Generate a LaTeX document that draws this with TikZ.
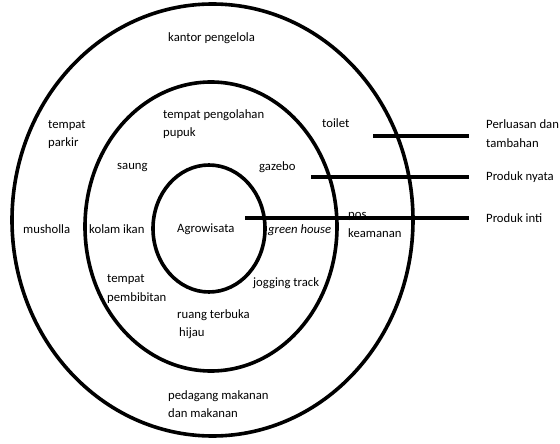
\documentclass[tikz,border=0pt]{standalone}
\usepackage{fontspec}
\setmainfont{Carlito}
\usepackage{tikz}

\begin{document}
\begin{tikzpicture}[x=1pt, y=-1pt, font=\fontsize{12.7}{18.5}\selectfont,
  ring/.style={line width=3.6pt},
  bar/.style={line width=4pt},
  lbl/.style={anchor=west, inner sep=0pt, align=left},
  tag/.style={anchor=west, inner ysep=0pt, inner xsep=17pt, align=left}]
\useasboundingbox (0,0) rectangle (560,444);
%%%%% Circles %%%%%
\draw[ring] (212.5,220) ellipse [x radius=200.5pt, y radius=216pt];
\draw[ring] (211,226.5) ellipse [x radius=126pt, y radius=144.5pt];
\draw[ring] (209,228.5) ellipse [x radius=56pt, y radius=63.5pt];
%%%%% Outer ring %%%%%
\node[lbl] (kantor) at (168,38) {kantor pengelola};
\node[lbl] (parkir) at (48,134.5) {tempat\\parkir};
\node[lbl] (toilet) at (322,123) {toilet};
\node[lbl] (musholla) at (23,229) {musholla};
\node[lbl] (pos) at (348,225) {pos\\keamanan};
\node[lbl] (pedagang) at (168,404) {pedagang makanan\\dan makanan};
%%%%% Middle ring %%%%%
\node[lbl] (pengolahan) at (163,124) {tempat pengolahan\\pupuk};
\node[lbl] (saung) at (117,168) {saung};
\node[lbl] (gazebo) at (259,167) {gazebo};
\node[lbl] (kolam) at (89,229) {kolam ikan};
\node[lbl] (greenhouse) at (268,230) {\itshape green house};
\node[lbl] (pembibitan) at (107,289) {tempat\\pembibitan};
\node[lbl] (jogging) at (253,283) {jogging track};
\node[lbl] (rth) at (177,324) {ruang terbuka\\\hspace{2pt}hijau};
%%%%% Core %%%%%
\node[lbl] (agro) at (177,229) {Agrowisata};
%%%%% Legend %%%%%
\node[tag] (lblperluasan) at (469,133.5) {Perluasan dan\\tambahan};
\node[tag] (lblnyata) at (469,177) {Produk nyata};
\node[tag] (lblinti) at (469,218) {Produk inti};
\coordinate (perluasanA) at (373,136);
\coordinate (nyataA) at (311,177);
\coordinate (intiA) at (245,218);
\draw[bar] (perluasanA) -- (perluasanA -| lblperluasan.west);
\draw[bar] (nyataA) -- (nyataA -| lblnyata.west);
\draw[bar] (intiA) -- (intiA -| lblinti.west);
\end{tikzpicture}
\end{document}
